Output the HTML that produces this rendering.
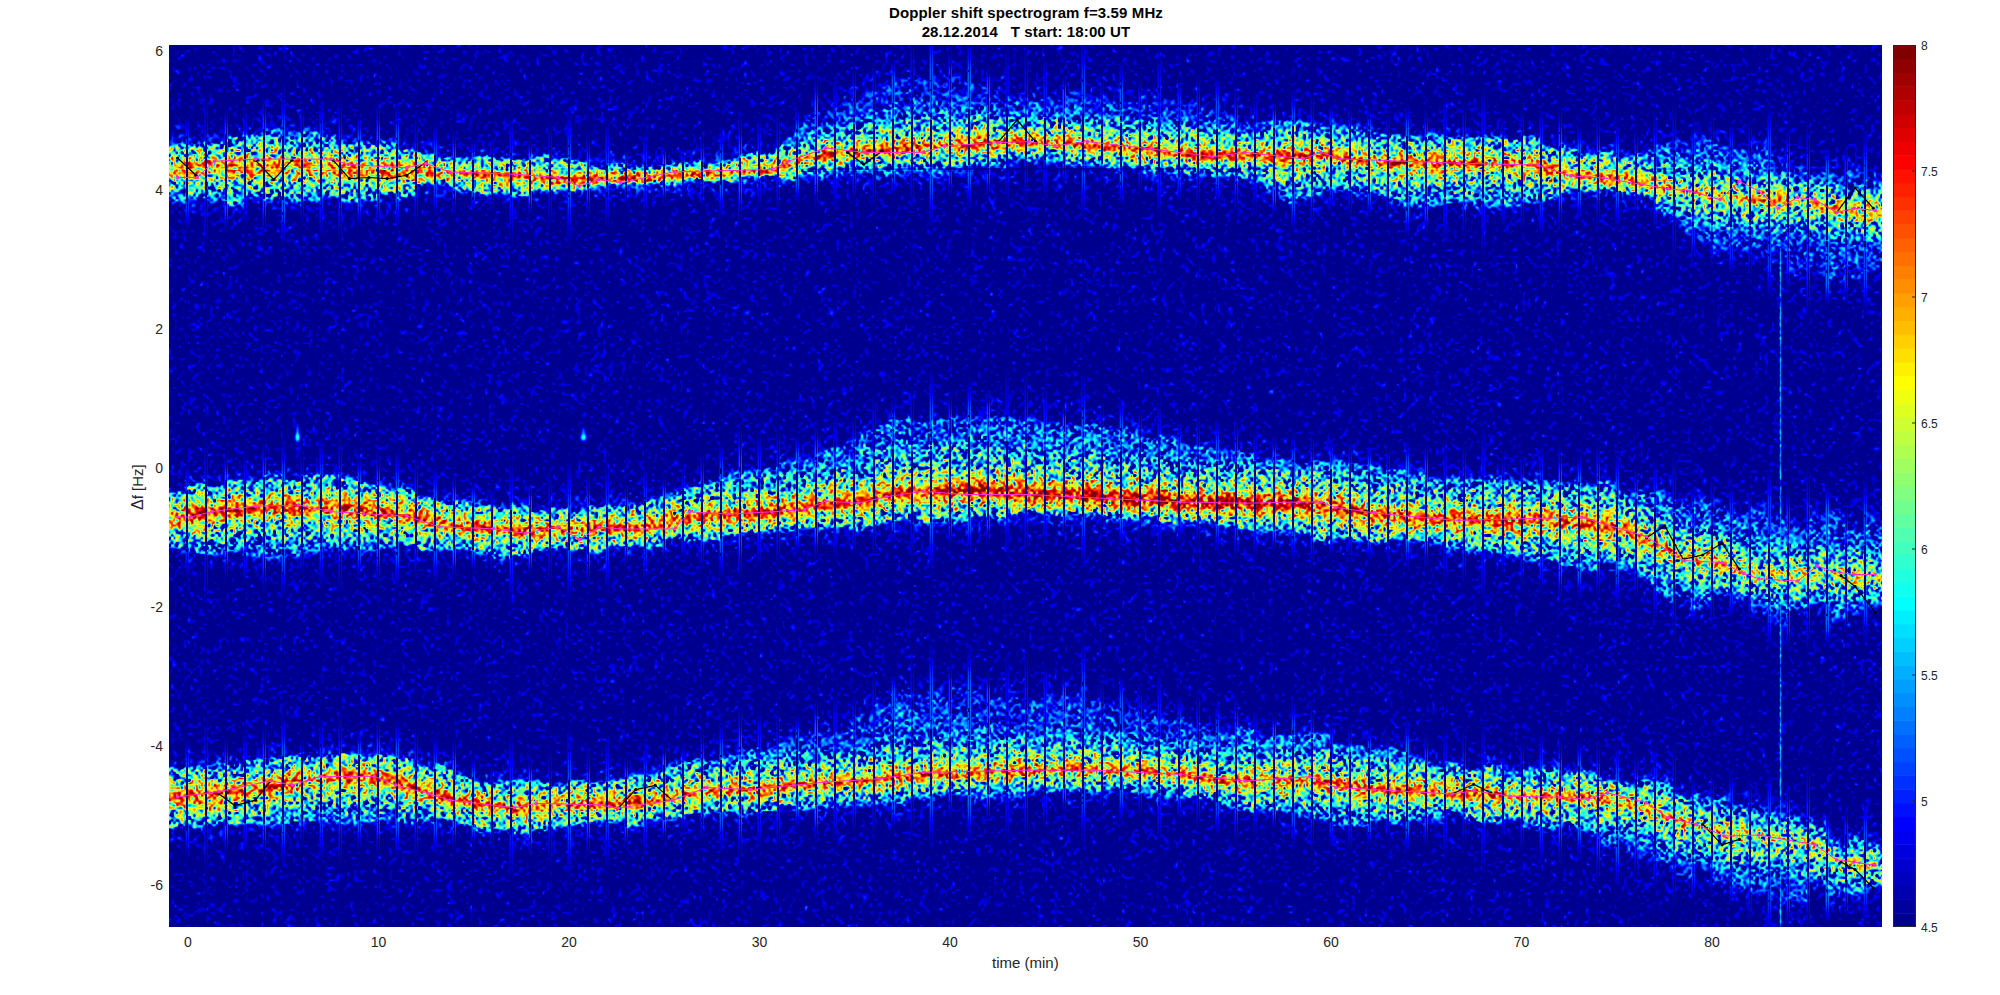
<!DOCTYPE html>
<html><head><meta charset="utf-8">
<style>
html,body{margin:0;padding:0;background:#fff;width:2000px;height:995px;overflow:hidden;position:relative;font-family:"Liberation Sans",sans-serif;}
.t{position:absolute;white-space:nowrap;color:#262626;font-size:14px;line-height:1;}
.title{position:absolute;left:0;width:2052px;text-align:center;font-weight:bold;color:#000;font-size:15px;line-height:1;white-space:pre;letter-spacing:0.12px;}
#cv{position:absolute;left:169px;top:45px;width:1713px;height:882px;}
#ov{position:absolute;left:169px;top:45px;}
#cb{position:absolute;left:1893px;top:45px;}
.yl{text-align:right;width:40px;}
.xl{text-align:center;width:40px;}
</style></head><body>
<div class="title" style="top:5px">Doppler shift spectrogram f=3.59 MHz</div>
<div class="title" style="top:24px">28.12.2014   T start: 18:00 UT</div>
<svg id="fb" width="1713" height="882" style="position:absolute;left:169px;top:45px"><rect width="1713" height="882" fill="#0a0a9a"/><polygon points="0,102 43,94 86,89 130,85 173,91 216,100 259,109 302,112 346,114 389,112 430,121 473,118 516,121 560,116 603,106 646,66 689,49 732,27 776,27 819,45 860,47 903,45 946,51 990,51 1033,56 1076,75 1119,73 1162,77 1206,88 1249,90 1283,92 1326,88 1369,94 1413,107 1456,107 1499,96 1521,98 1542,96 1586,101 1629,116 1672,118 1713,129 1713,227 1672,235 1629,227 1586,205 1542,204 1521,194 1499,163 1456,148 1413,146 1369,159 1326,159 1283,160 1249,166 1206,151 1162,146 1119,159 1076,133 1033,131 990,131 946,125 903,122 860,117 819,125 776,134 732,132 689,132 646,132 603,131 560,135 516,135 473,139 430,140 389,147 346,149 302,147 259,140 216,154 173,152 130,154 86,156 43,158 0,156" fill="#27b6e6"/><polygon points="0,109 43,108 86,108 130,108 173,109 216,113 259,114 302,118 346,120 389,125 430,124 473,124 516,120 560,118 603,116 646,102 689,94 732,92 776,90 819,86 860,85 903,88 946,91 990,94 1033,98 1076,98 1119,100 1162,99 1206,108 1249,108 1283,108 1326,108 1369,112 1413,119 1456,125 1499,132 1521,136 1542,138 1586,145 1629,147 1672,153 1713,156 1713,175 1672,173 1629,167 1586,164 1542,158 1521,156 1499,152 1456,145 1413,138 1369,132 1326,128 1283,128 1249,128 1206,128 1162,120 1119,123 1076,121 1033,121 990,116 946,113 903,110 860,108 819,109 776,112 732,114 689,116 646,122 603,134 560,136 516,138 473,142 430,142 389,144 346,140 302,138 259,136 216,139 173,137 130,136 86,136 43,136 0,137" fill="#d8e040"/><polyline points="0,123 43,122 86,122 130,122 173,123 216,126 259,125 302,128 346,130 389,135 430,133 473,133 516,129 560,127 603,125 646,112 689,105 732,103 776,101 819,98 860,97 903,99 946,102 990,105 1033,110 1076,110 1119,112 1162,110 1206,118 1249,118 1283,118 1326,118 1369,122 1413,129 1456,135 1499,142 1521,146 1542,148 1586,155 1629,157 1672,163 1713,166" fill="none" stroke="#e83010" stroke-width="6"/><polygon points="0,445 43,438 86,434 130,430 173,430 216,441 259,451 302,456 346,460 389,464 430,459 473,456 516,445 560,430 603,417 646,408 689,389 732,374 776,370 819,370 860,374 903,378 946,382 990,391 1033,400 1076,408 1119,417 1162,417 1206,424 1249,426 1283,433 1326,431 1369,436 1413,436 1456,444 1499,448 1521,457 1542,457 1586,466 1629,474 1672,474 1713,483 1713,574 1672,570 1629,570 1586,565 1542,552 1521,565 1499,548 1456,522 1413,522 1369,513 1326,509 1283,502 1249,497 1206,495 1162,495 1119,486 1076,482 1033,476 990,473 946,473 903,469 860,467 819,473 776,476 732,476 689,484 646,486 603,488 560,491 516,495 473,501 430,504 389,506 346,512 302,508 259,503 216,503 173,506 130,510 86,510 43,508 0,503" fill="#27b6e6"/><polygon points="0,456 43,451 86,447 130,447 173,447 216,453 259,462 302,470 346,474 389,472 430,472 473,472 516,462 560,457 603,454 646,447 689,442 732,432 776,431 819,430 860,433 903,434 946,437 990,440 1033,442 1076,443 1119,443 1162,448 1206,455 1249,459 1283,459 1326,460 1369,460 1413,465 1456,471 1499,491 1521,502 1542,502 1586,512 1629,517 1672,517 1713,517 1713,545 1672,545 1629,545 1586,540 1542,530 1521,530 1499,519 1456,499 1413,493 1369,488 1326,488 1283,487 1249,487 1206,483 1162,476 1119,471 1076,473 1033,472 990,470 946,468 903,465 860,463 819,460 776,461 732,462 689,470 646,473 603,479 560,481 516,484 473,492 430,493 389,493 346,496 302,494 259,488 216,481 173,477 130,477 86,477 43,482 0,486" fill="#d8e040"/><polyline points="0,471 43,467 86,462 130,462 173,462 216,467 259,475 302,482 346,485 389,483 430,482 473,482 516,473 560,469 603,467 646,460 689,456 732,447 776,446 819,445 860,448 903,450 946,453 990,455 1033,457 1076,458 1119,457 1162,462 1206,469 1249,473 1283,473 1326,474 1369,474 1413,479 1456,485 1499,505 1521,516 1542,516 1586,526 1629,531 1672,531 1713,531" fill="none" stroke="#e83010" stroke-width="6"/><polygon points="0,723 43,718 86,716 130,710 173,706 216,710 259,718 302,731 346,734 389,738 430,735 473,727 516,719 560,710 603,699 646,686 689,669 732,647 776,645 819,647 860,651 903,647 946,654 990,667 1033,678 1076,686 1119,688 1162,693 1206,701 1249,712 1283,720 1326,722 1369,726 1413,724 1456,737 1499,741 1542,754 1586,757 1629,772 1672,789 1713,806 1713,850 1672,850 1629,850 1586,841 1542,834 1499,815 1456,806 1413,789 1369,785 1326,776 1283,769 1249,775 1206,779 1162,779 1119,771 1076,762 1033,755 990,753 946,747 903,751 860,751 819,753 776,753 732,758 689,762 646,764 603,764 560,766 516,773 473,779 430,781 389,786 346,788 302,783 259,775 216,775 173,777 130,779 86,777 43,783 0,786" fill="#27b6e6"/><polygon points="0,738 43,735 86,730 130,722 173,716 216,720 259,734 302,746 346,750 389,748 430,746 473,744 516,738 560,735 603,733 646,728 689,726 732,722 776,720 819,718 860,716 903,713 946,715 990,718 1033,723 1076,726 1119,724 1162,726 1206,735 1249,735 1283,738 1326,740 1369,742 1413,742 1456,740 1499,758 1542,771 1586,777 1629,782 1672,803 1713,810 1713,838 1672,831 1629,810 1586,805 1542,799 1499,786 1456,768 1413,762 1369,762 1326,760 1283,758 1249,754 1206,754 1162,746 1119,744 1076,746 1033,743 990,737 946,735 903,733 860,735 819,737 776,739 732,742 689,746 646,748 603,752 560,754 516,760 473,767 430,769 389,771 346,773 302,769 259,759 216,748 173,744 130,750 86,758 43,763 0,766" fill="#d8e040"/><polyline points="0,752 43,749 86,744 130,736 173,730 216,734 259,747 302,757 346,762 389,760 430,758 473,755 516,749 560,745 603,742 646,738 689,736 732,732 776,730 819,727 860,726 903,723 946,725 990,727 1033,733 1076,736 1119,734 1162,736 1206,745 1249,745 1283,748 1326,750 1369,752 1413,752 1456,754 1499,772 1542,785 1586,791 1629,796 1672,817 1713,824" fill="none" stroke="#e83010" stroke-width="6"/></svg>
<canvas id="cv" width="1713" height="882"></canvas>
<svg id="ov" width="1713" height="882" style="position:absolute;left:169px;top:45px"><polyline points="8.6,113.0 27.0,130.3" fill="none" stroke="#000" stroke-width="1.2"/><circle cx="8.6" cy="113.0" r="1.6" fill="#000"/><circle cx="27.0" cy="130.3" r="1.6" fill="#000"/><polyline points="86.4,115.2 104.8,134.6 123.0,115.2" fill="none" stroke="#000" stroke-width="1.2"/><circle cx="86.4" cy="115.2" r="1.6" fill="#000"/><circle cx="104.8" cy="134.6" r="1.6" fill="#000"/><circle cx="123.0" cy="115.2" r="1.6" fill="#000"/><polyline points="164.2,115.2 180.4,133.6 199.9,132.5 218.2,133.6 237.7,130.3 257.0,117.4" fill="none" stroke="#000" stroke-width="1.2"/><circle cx="164.2" cy="115.2" r="1.6" fill="#000"/><circle cx="180.4" cy="133.6" r="1.6" fill="#000"/><circle cx="199.9" cy="132.5" r="1.6" fill="#000"/><circle cx="218.2" cy="133.6" r="1.6" fill="#000"/><circle cx="237.7" cy="130.3" r="1.6" fill="#000"/><circle cx="257.0" cy="117.4" r="1.6" fill="#000"/><polyline points="678.5,107.4 694.7,119.2 713.0,106.3" fill="none" stroke="#000" stroke-width="1.2"/><circle cx="678.5" cy="107.4" r="1.6" fill="#000"/><circle cx="694.7" cy="119.2" r="1.6" fill="#000"/><circle cx="713.0" cy="106.3" r="1.6" fill="#000"/><polyline points="829.7,96.6 848.0,75.0 866.5,96.6" fill="none" stroke="#000" stroke-width="1.2"/><circle cx="829.7" cy="96.6" r="1.6" fill="#000"/><circle cx="848.0" cy="75.0" r="1.6" fill="#000"/><circle cx="866.5" cy="96.6" r="1.6" fill="#000"/><polyline points="1667.6,167.6 1686.0,142.8 1704.4,163.3" fill="none" stroke="#000" stroke-width="1.2"/><circle cx="1667.6" cy="167.6" r="1.6" fill="#000"/><circle cx="1686.0" cy="142.8" r="1.6" fill="#000"/><circle cx="1704.4" cy="163.3" r="1.6" fill="#000"/><polyline points="1477.5,492.8 1495.8,480.9 1514.2,514.4 1533.6,510.0 1553.1,498.2 1570.4,524.1" fill="none" stroke="#000" stroke-width="1.2"/><circle cx="1477.5" cy="492.8" r="1.6" fill="#000"/><circle cx="1495.8" cy="480.9" r="1.6" fill="#000"/><circle cx="1514.2" cy="514.4" r="1.6" fill="#000"/><circle cx="1533.6" cy="510.0" r="1.6" fill="#000"/><circle cx="1553.1" cy="498.2" r="1.6" fill="#000"/><circle cx="1570.4" cy="524.1" r="1.6" fill="#000"/><polyline points="1672.0,530.6 1686.0,541.4 1706.5,567.3" fill="none" stroke="#000" stroke-width="1.2"/><circle cx="1672.0" cy="530.6" r="1.6" fill="#000"/><circle cx="1686.0" cy="541.4" r="1.6" fill="#000"/><circle cx="1706.5" cy="567.3" r="1.6" fill="#000"/><polyline points="49.7,748.7 65.9,760.6 86.4,755.2 101.6,735.8" fill="none" stroke="#000" stroke-width="1.2"/><circle cx="49.7" cy="748.7" r="1.6" fill="#000"/><circle cx="65.9" cy="760.6" r="1.6" fill="#000"/><circle cx="86.4" cy="755.2" r="1.6" fill="#000"/><circle cx="101.6" cy="735.8" r="1.6" fill="#000"/><polyline points="449.4,763.0 466.7,744.6 486.2,740.3 503.5,755.4" fill="none" stroke="#000" stroke-width="1.2"/><circle cx="449.4" cy="763.0" r="1.6" fill="#000"/><circle cx="466.7" cy="744.6" r="1.6" fill="#000"/><circle cx="486.2" cy="740.3" r="1.6" fill="#000"/><circle cx="503.5" cy="755.4" r="1.6" fill="#000"/><polyline points="1283.0,749.0 1304.6,739.3 1321.9,747.9" fill="none" stroke="#000" stroke-width="1.2"/><circle cx="1283.0" cy="749.0" r="1.6" fill="#000"/><circle cx="1304.6" cy="739.3" r="1.6" fill="#000"/><circle cx="1321.9" cy="747.9" r="1.6" fill="#000"/><polyline points="1533.6,779.2 1553.1,799.8 1570.4,794.4" fill="none" stroke="#000" stroke-width="1.2"/><circle cx="1533.6" cy="779.2" r="1.6" fill="#000"/><circle cx="1553.1" cy="799.8" r="1.6" fill="#000"/><circle cx="1570.4" cy="794.4" r="1.6" fill="#000"/><polyline points="1672.0,817.0 1686.0,824.6 1704.4,843.0" fill="none" stroke="#000" stroke-width="1.2"/><circle cx="1672.0" cy="817.0" r="1.6" fill="#000"/><circle cx="1686.0" cy="824.6" r="1.6" fill="#000"/><circle cx="1704.4" cy="843.0" r="1.6" fill="#000"/><polyline points="8.6,132.5 28.0,132.5 45.4,116.3 86.4,114.1 162.0,114.1 179.3,119.5 237.7,122.8 257.0,118.4 280.9,127.0 345.7,129.2 389.0,132.5 410.5,141.1 430.0,134.6 451.6,137.6 505.6,126.8 602.9,124.6 620.1,116.0 656.9,103.0 695.8,107.4 754.1,107.4 775.7,100.9 829.7,97.6 860.0,96.6 886.0,100.9 918.3,96.6 983.2,104.1 1043.7,111.7 1076.0,107.4 1134.4,113.8 1151.7,107.4 1171.1,113.8 1290.0,118.2 1369.4,120.1 1401.8,130.9 1434.3,133.0 1499.0,143.8 1520.7,146.0 1551.0,154.6 1570.4,136.3 1589.8,146.0 1609.3,163.3 1628.7,152.5 1646.0,154.6 1667.6,167.6 1684.9,163.3 1706.0,165.4" fill="none" stroke="#ff2bd6" stroke-width="1"/><circle cx="8.6" cy="132.5" r="1.8" fill="#ff2bd6"/><circle cx="28.0" cy="132.5" r="1.8" fill="#ff2bd6"/><circle cx="45.4" cy="116.3" r="1.8" fill="#ff2bd6"/><circle cx="86.4" cy="114.1" r="1.8" fill="#ff2bd6"/><circle cx="162.0" cy="114.1" r="1.8" fill="#ff2bd6"/><circle cx="179.3" cy="119.5" r="1.8" fill="#ff2bd6"/><circle cx="237.7" cy="122.8" r="1.8" fill="#ff2bd6"/><circle cx="257.0" cy="118.4" r="1.8" fill="#ff2bd6"/><circle cx="280.9" cy="127.0" r="1.8" fill="#ff2bd6"/><circle cx="345.7" cy="129.2" r="1.8" fill="#ff2bd6"/><circle cx="389.0" cy="132.5" r="1.8" fill="#ff2bd6"/><circle cx="410.5" cy="141.1" r="1.8" fill="#ff2bd6"/><circle cx="430.0" cy="134.6" r="1.8" fill="#ff2bd6"/><circle cx="451.6" cy="137.6" r="1.8" fill="#ff2bd6"/><circle cx="505.6" cy="126.8" r="1.8" fill="#ff2bd6"/><circle cx="602.9" cy="124.6" r="1.8" fill="#ff2bd6"/><circle cx="620.1" cy="116.0" r="1.8" fill="#ff2bd6"/><circle cx="656.9" cy="103.0" r="1.8" fill="#ff2bd6"/><circle cx="695.8" cy="107.4" r="1.8" fill="#ff2bd6"/><circle cx="754.1" cy="107.4" r="1.8" fill="#ff2bd6"/><circle cx="775.7" cy="100.9" r="1.8" fill="#ff2bd6"/><circle cx="829.7" cy="97.6" r="1.8" fill="#ff2bd6"/><circle cx="860.0" cy="96.6" r="1.8" fill="#ff2bd6"/><circle cx="886.0" cy="100.9" r="1.8" fill="#ff2bd6"/><circle cx="918.3" cy="96.6" r="1.8" fill="#ff2bd6"/><circle cx="983.2" cy="104.1" r="1.8" fill="#ff2bd6"/><circle cx="1043.7" cy="111.7" r="1.8" fill="#ff2bd6"/><circle cx="1076.0" cy="107.4" r="1.8" fill="#ff2bd6"/><circle cx="1134.4" cy="113.8" r="1.8" fill="#ff2bd6"/><circle cx="1151.7" cy="107.4" r="1.8" fill="#ff2bd6"/><circle cx="1171.1" cy="113.8" r="1.8" fill="#ff2bd6"/><circle cx="1290.0" cy="118.2" r="1.8" fill="#ff2bd6"/><circle cx="1369.4" cy="120.1" r="1.8" fill="#ff2bd6"/><circle cx="1401.8" cy="130.9" r="1.8" fill="#ff2bd6"/><circle cx="1434.3" cy="133.0" r="1.8" fill="#ff2bd6"/><circle cx="1499.0" cy="143.8" r="1.8" fill="#ff2bd6"/><circle cx="1520.7" cy="146.0" r="1.8" fill="#ff2bd6"/><circle cx="1551.0" cy="154.6" r="1.8" fill="#ff2bd6"/><circle cx="1570.4" cy="136.3" r="1.8" fill="#ff2bd6"/><circle cx="1589.8" cy="146.0" r="1.8" fill="#ff2bd6"/><circle cx="1609.3" cy="163.3" r="1.8" fill="#ff2bd6"/><circle cx="1628.7" cy="152.5" r="1.8" fill="#ff2bd6"/><circle cx="1646.0" cy="154.6" r="1.8" fill="#ff2bd6"/><circle cx="1667.6" cy="167.6" r="1.8" fill="#ff2bd6"/><circle cx="1684.9" cy="163.3" r="1.8" fill="#ff2bd6"/><circle cx="1706.0" cy="165.4" r="1.8" fill="#ff2bd6"/><polyline points="8.6,472.0 21.6,472.0 43.2,466.6 86.4,461.2 129.6,460.0 162.0,466.6 194.5,468.7 237.7,470.9 270.1,481.7 324.1,483.8 356.5,488.2 389.0,481.7 410.5,494.6 430.0,482.0 451.6,484.0 505.6,484.0 520.8,466.8 559.6,469.0 602.9,466.8 635.3,464.6 656.9,456.0 689.3,458.2 717.4,451.7 754.1,446.3 797.3,449.5 860.0,449.5 903.2,451.7 968.0,455.0 1011.3,457.0 1076.0,458.2 1130.0,457.0 1151.7,457.0 1166.8,462.5 1205.7,467.9 1249.0,472.2 1290.0,475.4 1412.6,472.2 1477.5,491.7 1514.2,515.5 1553.1,517.6 1574.7,528.4 1589.8,533.8 1628.7,536.0 1648.2,520.9 1663.3,526.3 1684.9,529.5 1706.0,529.5" fill="none" stroke="#ff2bd6" stroke-width="1"/><circle cx="8.6" cy="472.0" r="1.8" fill="#ff2bd6"/><circle cx="21.6" cy="472.0" r="1.8" fill="#ff2bd6"/><circle cx="43.2" cy="466.6" r="1.8" fill="#ff2bd6"/><circle cx="86.4" cy="461.2" r="1.8" fill="#ff2bd6"/><circle cx="129.6" cy="460.0" r="1.8" fill="#ff2bd6"/><circle cx="162.0" cy="466.6" r="1.8" fill="#ff2bd6"/><circle cx="194.5" cy="468.7" r="1.8" fill="#ff2bd6"/><circle cx="237.7" cy="470.9" r="1.8" fill="#ff2bd6"/><circle cx="270.1" cy="481.7" r="1.8" fill="#ff2bd6"/><circle cx="324.1" cy="483.8" r="1.8" fill="#ff2bd6"/><circle cx="356.5" cy="488.2" r="1.8" fill="#ff2bd6"/><circle cx="389.0" cy="481.7" r="1.8" fill="#ff2bd6"/><circle cx="410.5" cy="494.6" r="1.8" fill="#ff2bd6"/><circle cx="430.0" cy="482.0" r="1.8" fill="#ff2bd6"/><circle cx="451.6" cy="484.0" r="1.8" fill="#ff2bd6"/><circle cx="505.6" cy="484.0" r="1.8" fill="#ff2bd6"/><circle cx="520.8" cy="466.8" r="1.8" fill="#ff2bd6"/><circle cx="559.6" cy="469.0" r="1.8" fill="#ff2bd6"/><circle cx="602.9" cy="466.8" r="1.8" fill="#ff2bd6"/><circle cx="635.3" cy="464.6" r="1.8" fill="#ff2bd6"/><circle cx="656.9" cy="456.0" r="1.8" fill="#ff2bd6"/><circle cx="689.3" cy="458.2" r="1.8" fill="#ff2bd6"/><circle cx="717.4" cy="451.7" r="1.8" fill="#ff2bd6"/><circle cx="754.1" cy="446.3" r="1.8" fill="#ff2bd6"/><circle cx="797.3" cy="449.5" r="1.8" fill="#ff2bd6"/><circle cx="860.0" cy="449.5" r="1.8" fill="#ff2bd6"/><circle cx="903.2" cy="451.7" r="1.8" fill="#ff2bd6"/><circle cx="968.0" cy="455.0" r="1.8" fill="#ff2bd6"/><circle cx="1011.3" cy="457.0" r="1.8" fill="#ff2bd6"/><circle cx="1076.0" cy="458.2" r="1.8" fill="#ff2bd6"/><circle cx="1130.0" cy="457.0" r="1.8" fill="#ff2bd6"/><circle cx="1151.7" cy="457.0" r="1.8" fill="#ff2bd6"/><circle cx="1166.8" cy="462.5" r="1.8" fill="#ff2bd6"/><circle cx="1205.7" cy="467.9" r="1.8" fill="#ff2bd6"/><circle cx="1249.0" cy="472.2" r="1.8" fill="#ff2bd6"/><circle cx="1290.0" cy="475.4" r="1.8" fill="#ff2bd6"/><circle cx="1412.6" cy="472.2" r="1.8" fill="#ff2bd6"/><circle cx="1477.5" cy="491.7" r="1.8" fill="#ff2bd6"/><circle cx="1514.2" cy="515.5" r="1.8" fill="#ff2bd6"/><circle cx="1553.1" cy="517.6" r="1.8" fill="#ff2bd6"/><circle cx="1574.7" cy="528.4" r="1.8" fill="#ff2bd6"/><circle cx="1589.8" cy="533.8" r="1.8" fill="#ff2bd6"/><circle cx="1628.7" cy="536.0" r="1.8" fill="#ff2bd6"/><circle cx="1648.2" cy="520.9" r="1.8" fill="#ff2bd6"/><circle cx="1663.3" cy="526.3" r="1.8" fill="#ff2bd6"/><circle cx="1684.9" cy="529.5" r="1.8" fill="#ff2bd6"/><circle cx="1706.0" cy="529.5" r="1.8" fill="#ff2bd6"/><polyline points="8.6,752.0 49.7,746.6 101.6,735.8 123.2,740.1 151.3,731.4 205.3,731.4 226.9,740.1 259.3,748.7 280.9,755.2 345.7,762.8 367.3,758.4 430.0,759.8 449.4,763.0 503.5,755.4 538.0,742.5 581.3,744.6 624.5,740.3 656.9,737.1 711.0,733.8 754.1,727.4 860.0,725.2 924.8,725.2 1011.3,729.5 1076.0,736.0 1140.9,731.7 1166.8,742.5 1205.7,744.6 1283.0,749.0 1304.6,745.8 1341.3,751.2 1391.0,752.2 1419.1,754.4 1438.6,747.9 1477.5,757.6 1499.0,772.8 1527.2,779.2 1555.3,791.1 1589.8,790.0 1646.0,799.8 1667.6,814.9 1684.9,817.0 1706.0,820.3" fill="none" stroke="#ff2bd6" stroke-width="1"/><circle cx="8.6" cy="752.0" r="1.8" fill="#ff2bd6"/><circle cx="49.7" cy="746.6" r="1.8" fill="#ff2bd6"/><circle cx="101.6" cy="735.8" r="1.8" fill="#ff2bd6"/><circle cx="123.2" cy="740.1" r="1.8" fill="#ff2bd6"/><circle cx="151.3" cy="731.4" r="1.8" fill="#ff2bd6"/><circle cx="205.3" cy="731.4" r="1.8" fill="#ff2bd6"/><circle cx="226.9" cy="740.1" r="1.8" fill="#ff2bd6"/><circle cx="259.3" cy="748.7" r="1.8" fill="#ff2bd6"/><circle cx="280.9" cy="755.2" r="1.8" fill="#ff2bd6"/><circle cx="345.7" cy="762.8" r="1.8" fill="#ff2bd6"/><circle cx="367.3" cy="758.4" r="1.8" fill="#ff2bd6"/><circle cx="430.0" cy="759.8" r="1.8" fill="#ff2bd6"/><circle cx="449.4" cy="763.0" r="1.8" fill="#ff2bd6"/><circle cx="503.5" cy="755.4" r="1.8" fill="#ff2bd6"/><circle cx="538.0" cy="742.5" r="1.8" fill="#ff2bd6"/><circle cx="581.3" cy="744.6" r="1.8" fill="#ff2bd6"/><circle cx="624.5" cy="740.3" r="1.8" fill="#ff2bd6"/><circle cx="656.9" cy="737.1" r="1.8" fill="#ff2bd6"/><circle cx="711.0" cy="733.8" r="1.8" fill="#ff2bd6"/><circle cx="754.1" cy="727.4" r="1.8" fill="#ff2bd6"/><circle cx="860.0" cy="725.2" r="1.8" fill="#ff2bd6"/><circle cx="924.8" cy="725.2" r="1.8" fill="#ff2bd6"/><circle cx="1011.3" cy="729.5" r="1.8" fill="#ff2bd6"/><circle cx="1076.0" cy="736.0" r="1.8" fill="#ff2bd6"/><circle cx="1140.9" cy="731.7" r="1.8" fill="#ff2bd6"/><circle cx="1166.8" cy="742.5" r="1.8" fill="#ff2bd6"/><circle cx="1205.7" cy="744.6" r="1.8" fill="#ff2bd6"/><circle cx="1283.0" cy="749.0" r="1.8" fill="#ff2bd6"/><circle cx="1304.6" cy="745.8" r="1.8" fill="#ff2bd6"/><circle cx="1341.3" cy="751.2" r="1.8" fill="#ff2bd6"/><circle cx="1391.0" cy="752.2" r="1.8" fill="#ff2bd6"/><circle cx="1419.1" cy="754.4" r="1.8" fill="#ff2bd6"/><circle cx="1438.6" cy="747.9" r="1.8" fill="#ff2bd6"/><circle cx="1477.5" cy="757.6" r="1.8" fill="#ff2bd6"/><circle cx="1499.0" cy="772.8" r="1.8" fill="#ff2bd6"/><circle cx="1527.2" cy="779.2" r="1.8" fill="#ff2bd6"/><circle cx="1555.3" cy="791.1" r="1.8" fill="#ff2bd6"/><circle cx="1589.8" cy="790.0" r="1.8" fill="#ff2bd6"/><circle cx="1646.0" cy="799.8" r="1.8" fill="#ff2bd6"/><circle cx="1667.6" cy="814.9" r="1.8" fill="#ff2bd6"/><circle cx="1684.9" cy="817.0" r="1.8" fill="#ff2bd6"/><circle cx="1706.0" cy="820.3" r="1.8" fill="#ff2bd6"/></svg>
<svg id="cb" width="23" height="882"><rect x="0" y="868.22" width="23" height="14.28" fill="rgb(0,0,143)"/><rect x="0" y="854.44" width="23" height="14.28" fill="rgb(0,0,159)"/><rect x="0" y="840.66" width="23" height="14.28" fill="rgb(0,0,175)"/><rect x="0" y="826.88" width="23" height="14.28" fill="rgb(0,0,191)"/><rect x="0" y="813.09" width="23" height="14.28" fill="rgb(0,0,207)"/><rect x="0" y="799.31" width="23" height="14.28" fill="rgb(0,0,223)"/><rect x="0" y="785.53" width="23" height="14.28" fill="rgb(0,0,239)"/><rect x="0" y="771.75" width="23" height="14.28" fill="rgb(0,0,255)"/><rect x="0" y="757.97" width="23" height="14.28" fill="rgb(0,16,255)"/><rect x="0" y="744.19" width="23" height="14.28" fill="rgb(0,32,255)"/><rect x="0" y="730.41" width="23" height="14.28" fill="rgb(0,48,255)"/><rect x="0" y="716.62" width="23" height="14.28" fill="rgb(0,64,255)"/><rect x="0" y="702.84" width="23" height="14.28" fill="rgb(0,80,255)"/><rect x="0" y="689.06" width="23" height="14.28" fill="rgb(0,96,255)"/><rect x="0" y="675.28" width="23" height="14.28" fill="rgb(0,112,255)"/><rect x="0" y="661.50" width="23" height="14.28" fill="rgb(0,128,255)"/><rect x="0" y="647.72" width="23" height="14.28" fill="rgb(0,143,255)"/><rect x="0" y="633.94" width="23" height="14.28" fill="rgb(0,159,255)"/><rect x="0" y="620.16" width="23" height="14.28" fill="rgb(0,175,255)"/><rect x="0" y="606.38" width="23" height="14.28" fill="rgb(0,191,255)"/><rect x="0" y="592.59" width="23" height="14.28" fill="rgb(0,207,255)"/><rect x="0" y="578.81" width="23" height="14.28" fill="rgb(0,223,255)"/><rect x="0" y="565.03" width="23" height="14.28" fill="rgb(0,239,255)"/><rect x="0" y="551.25" width="23" height="14.28" fill="rgb(0,255,255)"/><rect x="0" y="537.47" width="23" height="14.28" fill="rgb(16,255,239)"/><rect x="0" y="523.69" width="23" height="14.28" fill="rgb(32,255,223)"/><rect x="0" y="509.91" width="23" height="14.28" fill="rgb(48,255,207)"/><rect x="0" y="496.12" width="23" height="14.28" fill="rgb(64,255,191)"/><rect x="0" y="482.34" width="23" height="14.28" fill="rgb(80,255,175)"/><rect x="0" y="468.56" width="23" height="14.28" fill="rgb(96,255,159)"/><rect x="0" y="454.78" width="23" height="14.28" fill="rgb(112,255,143)"/><rect x="0" y="441.00" width="23" height="14.28" fill="rgb(128,255,128)"/><rect x="0" y="427.22" width="23" height="14.28" fill="rgb(143,255,112)"/><rect x="0" y="413.44" width="23" height="14.28" fill="rgb(159,255,96)"/><rect x="0" y="399.66" width="23" height="14.28" fill="rgb(175,255,80)"/><rect x="0" y="385.88" width="23" height="14.28" fill="rgb(191,255,64)"/><rect x="0" y="372.09" width="23" height="14.28" fill="rgb(207,255,48)"/><rect x="0" y="358.31" width="23" height="14.28" fill="rgb(223,255,32)"/><rect x="0" y="344.53" width="23" height="14.28" fill="rgb(239,255,16)"/><rect x="0" y="330.75" width="23" height="14.28" fill="rgb(255,255,0)"/><rect x="0" y="316.97" width="23" height="14.28" fill="rgb(255,239,0)"/><rect x="0" y="303.19" width="23" height="14.28" fill="rgb(255,223,0)"/><rect x="0" y="289.41" width="23" height="14.28" fill="rgb(255,207,0)"/><rect x="0" y="275.62" width="23" height="14.28" fill="rgb(255,191,0)"/><rect x="0" y="261.84" width="23" height="14.28" fill="rgb(255,175,0)"/><rect x="0" y="248.06" width="23" height="14.28" fill="rgb(255,159,0)"/><rect x="0" y="234.28" width="23" height="14.28" fill="rgb(255,143,0)"/><rect x="0" y="220.50" width="23" height="14.28" fill="rgb(255,128,0)"/><rect x="0" y="206.72" width="23" height="14.28" fill="rgb(255,112,0)"/><rect x="0" y="192.94" width="23" height="14.28" fill="rgb(255,96,0)"/><rect x="0" y="179.16" width="23" height="14.28" fill="rgb(255,80,0)"/><rect x="0" y="165.38" width="23" height="14.28" fill="rgb(255,64,0)"/><rect x="0" y="151.59" width="23" height="14.28" fill="rgb(255,48,0)"/><rect x="0" y="137.81" width="23" height="14.28" fill="rgb(255,32,0)"/><rect x="0" y="124.03" width="23" height="14.28" fill="rgb(255,16,0)"/><rect x="0" y="110.25" width="23" height="14.28" fill="rgb(255,0,0)"/><rect x="0" y="96.47" width="23" height="14.28" fill="rgb(239,0,0)"/><rect x="0" y="82.69" width="23" height="14.28" fill="rgb(223,0,0)"/><rect x="0" y="68.91" width="23" height="14.28" fill="rgb(207,0,0)"/><rect x="0" y="55.12" width="23" height="14.28" fill="rgb(191,0,0)"/><rect x="0" y="41.34" width="23" height="14.28" fill="rgb(175,0,0)"/><rect x="0" y="27.56" width="23" height="14.28" fill="rgb(159,0,0)"/><rect x="0" y="13.78" width="23" height="14.28" fill="rgb(143,0,0)"/><rect x="0" y="0.00" width="23" height="14.28" fill="rgb(128,0,0)"/><line x1="19" x2="23" y1="0" y2="0" stroke="#262626" stroke-width="1"/><line x1="19" x2="23" y1="126" y2="126" stroke="#262626" stroke-width="1"/><line x1="19" x2="23" y1="252" y2="252" stroke="#262626" stroke-width="1"/><line x1="19" x2="23" y1="378" y2="378" stroke="#262626" stroke-width="1"/><line x1="19" x2="23" y1="504" y2="504" stroke="#262626" stroke-width="1"/><line x1="19" x2="23" y1="630" y2="630" stroke="#262626" stroke-width="1"/><line x1="19" x2="23" y1="756" y2="756" stroke="#262626" stroke-width="1"/><line x1="19" x2="23" y1="882" y2="882" stroke="#262626" stroke-width="1"/><rect x="0.5" y="0.5" width="22" height="881" fill="none" stroke="#262626" stroke-width="1"/></svg>
<div class="t yl" style="left:123px;top:44px">6</div>
<div class="t yl" style="left:123px;top:183px">4</div>
<div class="t yl" style="left:123px;top:322px">2</div>
<div class="t yl" style="left:123px;top:461px">0</div>
<div class="t yl" style="left:123px;top:600px">-2</div>
<div class="t yl" style="left:123px;top:739px">-4</div>
<div class="t yl" style="left:123px;top:878px">-6</div>
<div class="t xl" style="left:168.0px;top:935px">0</div>
<div class="t xl" style="left:358.5px;top:935px">10</div>
<div class="t xl" style="left:549.0px;top:935px">20</div>
<div class="t xl" style="left:739.5px;top:935px">30</div>
<div class="t xl" style="left:930.0px;top:935px">40</div>
<div class="t xl" style="left:1120.5px;top:935px">50</div>
<div class="t xl" style="left:1311.0px;top:935px">60</div>
<div class="t xl" style="left:1501.5px;top:935px">70</div>
<div class="t xl" style="left:1692.0px;top:935px">80</div>
<div class="t" style="left:992px;top:955px;font-size:15px">time (min)</div>
<div class="t" style="left:114px;top:480px;font-size:15px;transform:rotate(-90deg);transform-origin:23px 7px;width:46px"><span style="font-size:16px">&#916;</span>f [Hz]</div>
<div class="t" style="left:1921px;top:40px;font-size:12px">8</div>
<div class="t" style="left:1921px;top:166px;font-size:12px">7.5</div>
<div class="t" style="left:1921px;top:292px;font-size:12px">7</div>
<div class="t" style="left:1921px;top:418px;font-size:12px">6.5</div>
<div class="t" style="left:1921px;top:544px;font-size:12px">6</div>
<div class="t" style="left:1921px;top:670px;font-size:12px">5.5</div>
<div class="t" style="left:1921px;top:796px;font-size:12px">5</div>
<div class="t" style="left:1921px;top:922px;font-size:12px">4.5</div>

<script id="gen">
(function(){
var W=1713,H=882,X0=169,Y0=45;
var cv=document.getElementById('cv'),ctx=cv.getContext('2d');
var img=ctx.createImageData(W,H),D=img.data;
var s=2463534242;
function rnd(){s^=s<<13;s^=s>>>17;s^=s<<5;return ((s>>>0)+0.5)/4294967296;}
function blur(a,r){var b=new Float32Array(W*H),x,y,acc,n=2*r+1;
 for(y=0;y<H;y++){acc=0;var o=y*W;for(x=-r;x<=r;x++)acc+=a[o+Math.min(W-1,Math.max(0,x))];
  for(x=0;x<W;x++){b[o+x]=acc/n;acc+=a[o+Math.min(W-1,x+r+1)]-a[o+Math.max(0,x-r)];}}
 for(x=0;x<W;x++){acc=0;for(y=-r;y<=r;y++)acc+=b[Math.min(H-1,Math.max(0,y))*W+x];
  for(y=0;y<H;y++){a[y*W+x]=acc/n;acc+=b[Math.min(H-1,y+r+1)*W+x]-b[Math.max(0,y-r)*W+x];}}
}
function b121(a){var b=new Float32Array(W*H),x,y,o;
 for(y=0;y<H;y++){o=y*W;b[o]=a[o];b[o+W-1]=a[o+W-1];for(x=1;x<W-1;x++)b[o+x]=(a[o+x-1]+2*a[o+x]+a[o+x+1])*0.25;}
 for(x=0;x<W;x++){a[x]=b[x];a[(H-1)*W+x]=b[(H-1)*W+x];for(y=1;y<H-1;y++){o=y*W+x;a[o]=(b[o-W]+2*b[o]+b[o+W])*0.25;}}
}
var NP=W*H,i;
var N=new Float32Array(NP);for(i=0;i<NP;i++)N[i]=rnd();

function mkNoise(ns,OUT){var GW=Math.ceil(W/ns)+4,GH=Math.ceil(H/ns)+4,GN=GW*GH;var M=new Float32Array(GN),i;
for(i=0;i<GN;i++){var u1=rnd(),u2=rnd();M[i]=Math.sqrt(-2*Math.log(u1))*Math.cos(6.2831853*u2);}
for(i=0;i<GN;i++){var f=M[i];var U=1/(1+Math.exp(-1.702*f));M[i]=Math.log(-Math.log(1-U)+1e-6);}
function cr(p0,p1,p2,p3,t){return p1+0.5*t*(p2-p0+t*(2*p0-5*p1+4*p2-p3+t*(3*(p1-p2)+p3-p0)));}
var row=new Float32Array(4);
for(var y=0;y<H;y++){var fy=y/ns+1,iy=Math.floor(fy),ty=fy-iy;for(var x=0;x<W;x++){var fx=x/ns+1,ix=Math.floor(fx),tx=fx-ix;
 for(var r=0;r<4;r++){var o=(iy-1+r)*GW+ix;row[r]=cr(M[o-1],M[o],M[o+1],M[o+2],tx);}
 OUT[y*W+x]=cr(row[0],row[1],row[2],row[3],ty);}}
var mu=0,sd=0;for(i=0;i<NP;i++)mu+=OUT[i];mu/=NP;for(i=0;i<NP;i++){OUT[i]-=mu;sd+=OUT[i]*OUT[i];}sd=Math.sqrt(sd/NP);for(i=0;i<NP;i++)OUT[i]/=sd;}
mkNoise((2.5),N);var N2=new Float32Array(NP);mkNoise((3.2),N2);

function interp(P,x,k){if(x<=P[0][0])return P[0][k];for(var j=1;j<P.length;j++){if(x<=P[j][0]){var t=(x-P[j-1][0])/(P[j][0]-P[j-1][0]);return P[j-1][k]*(1-t)+P[j][k]*t;}}return P[P.length-1][k];}
var B=[[[169.0, 168.0, 147.0, 201.0, 20.0, 0.9, 1.0], [212.0, 166.7, 138.6, 203.0, 20.0, 0.9, 1.0], [255.0, 166.7, 134.0, 201.0, 20.0, 0.9, 1.0], [299.0, 166.7, 130.0, 199.0, 20.0, 0.9, 1.0], [342.0, 168.0, 136.0, 197.0, 20.0, 0.9, 1.0], [385.0, 171.0, 145.0, 199.0, 18.0, 0.9, 1.0], [428.0, 170.0, 154.0, 185.0, 15.0, 1.0, 1.0], [471.5, 173.0, 156.6, 191.8, 14.0, 1.0, 1.0], [515.0, 175.0, 158.7, 194.0, 14.0, 1.0, 1.0], [558.0, 179.6, 156.6, 191.8, 14.0, 1.0, 1.0], [599.0, 178.0, 166.0, 185.0, 13.0, 1.0, 1.0], [642.0, 178.0, 163.5, 184.0, 13.0, 1.0, 1.0], [685.0, 174.0, 165.7, 180.0, 13.0, 1.0, 1.0], [729.0, 172.0, 161.0, 180.0, 13.0, 1.0, 1.0], [772.0, 169.6, 150.6, 175.6, 13.0, 1.0, 1.0], [815.0, 156.7, 111.0, 176.5, 14.0, 1.0, 0.55], [858.0, 150.0, 94.0, 176.5, 15.0, 1.0, 0.55], [901.5, 148.0, 72.4, 176.5, 16.0, 1.0, 0.55], [944.7, 146.0, 72.4, 178.6, 16.0, 1.0, 0.55], [988.0, 142.6, 89.7, 170.0, 16.0, 1.0, 0.55], [1029.0, 141.6, 92.0, 162.0, 16.0, 1.0, 0.55], [1072.0, 143.7, 89.7, 167.5, 16.0, 1.0, 0.55], [1115.0, 147.0, 96.0, 169.6, 16.0, 1.0, 0.55], [1158.6, 150.0, 96.0, 176.0, 16.0, 1.0, 0.55], [1202.0, 154.5, 100.5, 176.0, 16.0, 1.0, 0.55], [1245.0, 154.5, 120.0, 178.0, 16.0, 1.0, 0.55], [1288.0, 156.7, 117.8, 204.0, 16.0, 1.0, 1.0], [1331.5, 154.5, 122.0, 191.0, 15.0, 1.0, 1.0], [1374.7, 163.0, 133.0, 195.6, 15.0, 1.0, 1.0], [1418.0, 163.0, 135.0, 210.7, 15.0, 1.0, 1.0], [1452.0, 163.0, 137.0, 205.0, 15.0, 1.0, 1.0], [1495.0, 163.0, 132.7, 204.0, 15.0, 1.0, 1.0], [1538.0, 167.0, 139.0, 204.0, 15.0, 1.0, 1.0], [1581.6, 173.7, 152.0, 191.0, 14.0, 0.9, 1.0], [1625.0, 180.0, 152.0, 193.0, 14.0, 0.9, 1.0], [1668.0, 186.7, 141.0, 208.0, 14.0, 0.75, 0.9], [1690.0, 191.0, 143.5, 238.5, 14.0, 0.75, 0.9], [1711.0, 193.0, 141.0, 249.0, 14.0, 0.75, 0.9], [1754.5, 199.6, 145.6, 250.0, 14.0, 0.75, 0.7], [1797.7, 202.0, 160.7, 272.0, 14.0, 0.75, 0.7], [1841.0, 208.0, 163.0, 280.0, 14.0, 0.75, 0.7], [1882.0, 210.5, 173.7, 272.0, 14.0, 0.75, 0.7]], [[169.0, 516.0, 490.0, 548.0, 22.0, 1.1, 1.0], [212.0, 511.6, 483.5, 552.6, 22.0, 1.1, 1.0], [255.4, 507.0, 479.0, 554.8, 22.0, 1.05, 1.0], [298.6, 507.0, 474.8, 554.8, 22.0, 1.0, 1.0], [341.9, 507.0, 474.8, 550.5, 22.0, 1.0, 1.0], [385.0, 511.6, 485.6, 548.0, 20.0, 1.0, 1.0], [428.0, 520.0, 496.4, 548.0, 18.0, 1.0, 1.0], [471.5, 526.7, 500.8, 552.6, 17.0, 1.0, 1.0], [514.7, 530.0, 505.0, 557.0, 16.0, 1.0, 1.0], [558.0, 527.8, 509.4, 550.5, 15.0, 1.0, 1.0], [599.0, 527.5, 504.0, 549.0, 15.0, 1.0, 1.0], [642.0, 527.0, 501.0, 546.0, 15.0, 1.0, 1.0], [685.4, 518.0, 490.0, 540.0, 16.0, 1.05, 1.0], [728.6, 514.0, 475.0, 535.6, 17.0, 1.1, 1.0], [772.0, 511.8, 462.0, 533.4, 18.0, 1.1, 0.95], [815.0, 505.0, 453.5, 531.0, 18.0, 1.1, 0.95], [858.0, 501.0, 434.0, 529.0, 20.0, 1.1, 0.95], [901.5, 492.0, 419.0, 520.5, 22.0, 1.1, 0.95], [944.7, 491.0, 414.6, 520.5, 22.0, 1.1, 0.95], [988.0, 490.0, 414.6, 518.0, 22.0, 1.2, 0.95], [1029.0, 493.0, 419.0, 512.0, 22.0, 1.3, 0.95], [1072.0, 494.5, 423.0, 514.0, 22.0, 1.3, 0.95], [1115.0, 497.8, 427.5, 518.0, 22.0, 1.3, 0.95], [1158.6, 500.0, 436.0, 518.0, 22.0, 1.3, 0.95], [1202.0, 502.0, 444.8, 520.5, 22.0, 1.3, 0.95], [1245.0, 503.0, 453.5, 527.0, 22.0, 1.3, 1.0], [1288.0, 502.0, 462.0, 531.0, 20.0, 1.3, 1.0], [1331.5, 507.5, 462.0, 540.0, 20.0, 1.2, 1.0], [1374.7, 514.0, 468.6, 540.0, 20.0, 1.0, 1.0], [1418.0, 518.0, 470.8, 542.0, 20.0, 1.0, 1.0], [1452.0, 518.0, 478.0, 547.0, 20.0, 1.0, 1.0], [1495.0, 519.4, 476.0, 554.0, 20.0, 1.0, 1.0], [1538.0, 519.4, 480.5, 558.3, 20.0, 1.0, 1.0], [1581.6, 523.7, 480.5, 567.0, 20.0, 0.95, 1.0], [1625.0, 530.0, 489.0, 567.0, 20.0, 0.9, 1.0], [1668.0, 549.6, 493.5, 593.0, 20.0, 0.8, 1.0], [1690.0, 560.5, 502.0, 610.0, 20.0, 0.7, 1.0], [1711.0, 560.5, 502.0, 597.0, 20.0, 0.7, 1.0], [1754.5, 571.0, 510.8, 610.0, 20.0, 0.6, 1.0], [1797.7, 575.6, 519.4, 614.5, 20.0, 0.55, 1.0], [1841.0, 575.6, 519.4, 614.5, 20.0, 0.55, 1.0], [1882.0, 575.6, 528.0, 618.8, 20.0, 0.55, 1.0]], [[169.0, 797.0, 767.8, 830.5, 20.0, 1.0, 1.0], [212.0, 793.7, 763.5, 828.3, 20.0, 1.0, 1.0], [255.4, 789.4, 761.0, 821.8, 20.0, 1.0, 1.0], [298.6, 780.8, 754.8, 824.0, 20.0, 1.0, 1.0], [341.9, 775.3, 750.5, 821.8, 20.0, 1.0, 1.0], [385.0, 778.6, 754.8, 819.6, 20.0, 1.0, 1.0], [428.0, 791.6, 763.5, 819.6, 18.0, 1.0, 1.0], [471.5, 802.4, 776.4, 828.3, 16.0, 0.95, 1.0], [514.7, 806.7, 778.6, 832.6, 16.0, 0.95, 1.0], [558.0, 804.5, 783.0, 830.5, 16.0, 0.95, 1.0], [599.0, 802.5, 780.0, 826.0, 16.0, 0.95, 1.0], [642.0, 800.4, 772.4, 824.0, 16.0, 0.95, 1.0], [685.4, 794.0, 763.7, 817.7, 16.0, 0.95, 1.0], [728.6, 789.6, 755.0, 811.0, 14.0, 0.95, 1.0], [772.0, 787.5, 744.0, 809.0, 14.0, 0.95, 1.0], [815.0, 783.0, 731.3, 809.0, 14.0, 0.95, 0.65], [858.0, 781.0, 714.0, 807.0, 14.0, 0.95, 0.65], [901.5, 776.7, 692.4, 802.6, 14.0, 0.95, 0.65], [944.7, 774.5, 690.0, 798.3, 14.0, 0.95, 0.65], [988.0, 772.4, 692.4, 798.3, 14.0, 0.95, 0.65], [1029.0, 770.5, 696.0, 796.0, 14.0, 0.95, 0.65], [1072.0, 768.0, 692.4, 796.0, 14.0, 0.95, 0.65], [1115.0, 770.0, 699.0, 791.8, 14.0, 0.95, 0.65], [1158.6, 772.4, 711.9, 798.3, 14.0, 0.95, 0.65], [1202.0, 777.8, 722.7, 800.4, 14.0, 0.95, 0.65], [1245.0, 781.0, 731.3, 807.0, 14.0, 0.95, 1.0], [1288.0, 778.8, 733.5, 815.6, 14.0, 0.95, 1.0], [1331.5, 781.0, 737.8, 824.0, 14.0, 0.95, 1.0], [1374.7, 789.6, 746.4, 824.0, 14.0, 0.95, 1.0], [1418.0, 789.6, 757.0, 820.0, 14.0, 0.95, 1.0], [1452.0, 793.0, 765.0, 814.0, 14.0, 0.95, 1.0], [1495.0, 795.0, 767.0, 821.0, 14.0, 0.9, 1.0], [1538.0, 797.2, 771.3, 829.6, 14.0, 0.9, 1.0], [1581.6, 797.2, 769.0, 834.0, 14.0, 0.9, 1.0], [1625.0, 799.0, 782.0, 851.0, 20.0, 0.85, 1.0], [1668.0, 816.7, 786.4, 860.0, 20.0, 0.75, 1.0], [1711.0, 829.6, 799.4, 879.0, 20.0, 0.65, 1.0], [1754.5, 836.0, 801.6, 885.8, 20.0, 0.55, 1.0], [1797.7, 840.5, 816.7, 894.5, 20.0, 0.5, 1.0], [1841.0, 862.0, 834.0, 894.5, 20.0, 0.5, 1.0], [1882.0, 868.5, 851.3, 894.5, 20.0, 0.5, 1.0]]];
var SEGR=[];for(var q=0;q<100;q++){var a=[];for(var r=0;r<9;r++)a.push(rnd()*2-1);SEGR.push(a);}
var V=new Float32Array(NP),S=new Float32Array(NP);
var cC=[0,0,0],cT=[0,0,0],cB=[0,0,0],cW=[0,0,0],cP=[0,0,0],cH=[1,1,1];
function sstep(t){t=Math.max(0,Math.min(1,t));return t*t*(3-2*t);}
for(var x=0;x<W;x++){var px=x+X0;
 var sk=Math.floor((px-186.4)/19.06)+2;var sg=SEGR[sk]||[0,0,0,0,0,0,0,0,0];
 for(var b=0;b<3;b++){cC[b]=interp(B[b],px,1)-Y0;var p0=interp(B[b],px,5),sgm=(4.0)*(1+4*Math.max(0,1-p0));cT[b]=interp(B[b],px,2)-Y0+sgm*sg[b*3];cB[b]=interp(B[b],px,3)-Y0+sgm*sg[b*3+1];cW[b]=interp(B[b],px,4);cP[b]=interp(B[b],px,5)*(1+(0.12)*sg[b*3+2]);cH[b]=B[b][0].length>6?interp(B[b],px,6):1;}
 for(var y=0;y<H;y++){
  var mx=(-0.055),sm=0;
  for(b=0;b<3;b++){var c=cC[b],top=cT[b],bot=cB[b];
   var pp=cP[b],ed=(5.0)*(1+(4.0)*Math.max(0,1-pp));
   var pl;if(y<c){pl=sstep((y-top)/ed+(0.5));}else{pl=sstep((bot-y)/ed+(0.5));}
   var ad=Math.abs(y-c);
   var outer;if(y<c){outer=Math.exp(-Math.pow(Math.max(0,top-y)/(15.0),2));}else{outer=Math.exp(-Math.pow(Math.max(0,y-bot)/(15.0),2));}
   var dc=(y-c)/cW[b];
   var core=Math.exp(-dc*dc*0.7);
   var ridge=Math.exp(-dc*dc*(8.0));
   var dd=(y<c)?(c-y)/Math.max(1,c-top):(y-c)/Math.max(1,bot-c);dd=Math.min(1,dd);
   var hl=(0.22)+((0.32)-(0.22))*(1-dd)+((0.5)-(0.32))*Math.exp(-ad*ad/((24.0)*(24.0)));
   hl*=(1-(0.5)*Math.max(0,1-pp))*(1-(1-cH[b])*dd);
   var v=(-0.055)+(0.05)*outer+pl*(hl-(0.05))+cP[b]*((0.15)*core+(0.2)*ridge);
   if(v>mx)mx=v;
   var st=outer; if(st>sm)sm=st;
  }
  V[y*W+x]=mx; S[y*W+x]=sm;
 }
}
var AM=new Float32Array(NP);for(i=0;i<NP;i++){var t=Math.min(1,Math.max(0,(V[i]-(-0.055))/0.3));AM[i]=((0.095)+((0.2)-(0.095))*t)*(1-(0.35)*Math.min(1,Math.max(0,(V[i]-0.45)/0.3)));var nn=t*N[i]+(1-t)*N2[i];V[i]=V[i]+AM[i]*nn;}
for(var k=0;k<90;k++){var sx=Math.round(186.4+19.06*k-X0)-1;if(sx<0||sx>=W-3)continue;
 var fx=1+2.2*Math.pow(rnd(),2),gx=0.7+0.6*rnd();
 for(var y=0;y<H;y++){var o=y*W+sx;var bs=V[o+1]-AM[o+1]*N[o+1];var sv=Math.pow(S[o+1],1/(fx*fx));
  var lv=(-0.055)+0.03+(0.18)*gx*sv;
  V[o]=Math.max(V[o],lv*0.7); V[o+3]=Math.max(V[o+3],lv);
  if(bs>(0.2)){V[o+1]=-0.5;V[o+2]=-0.5;}else{V[o+1]=Math.max(V[o+1]*0.5,lv);V[o+2]=V[o+2]*0.6;}
 }}

(function(){var vx=1780-X0;for(var y=248-Y0;y<H;y++){for(var dx=-1;dx<=1;dx++){var o=y*W+vx+dx;var lv=(dx==0?0.24:0.10)+0.05*N[o];V[o]=Math.max(V[o],lv);}}
 for(var x=0;x<1700-X0;x++){for(var y=121;y<=126;y++){var o=y*W+x;var w=(y==123||y==124)?0.13:0.04;V[o]-=w;}}
 var blobs=[[297,437,2.5,4.5],[583,437,3,3.5]];for(var k=0;k<blobs.length;k++){var bx=blobs[k][0]-X0,by=blobs[k][1]-Y0,rx=blobs[k][2],ry=blobs[k][3];
  for(var yy=Math.floor(by-ry*3);yy<=by+ry*2;yy++)for(var xx=Math.floor(bx-rx*2);xx<=bx+rx*2;xx++){var dx=(xx-bx)/rx,dy=(yy-by)/ry;var o=yy*W+xx;
   var g=0.42*Math.exp(-(dx*dx+dy*dy))+0.2*Math.exp(-dx*dx*2-Math.pow((yy-by+ry*1.8)/(ry*1.2),2));V[o]=Math.max(V[o],g);}}
})();

function jet(f){function u(k){return k<=16?k/16:(k<=31?1:(k<=47?(48-k)/16:0));}
 return [(f>=25)?u(f-24):0,(f>=9&&f<=55)?u(f-8):0,(f<=39)?u(f+8):0];}
var LUT=[];for(i=1;i<=64;i++)LUT.push(jet(i));
for(i=0;i<NP;i++){var q=Math.floor(Math.max(0,Math.min(0.99999,V[i]))*64);var c3=LUT[q];D[4*i]=c3[0]*255;D[4*i+1]=c3[1]*255;D[4*i+2]=c3[2]*255;D[4*i+3]=255;}
(function(){var R=new Float32Array(NP),G=new Float32Array(NP),Bc=new Float32Array(NP);
for(var i=0;i<NP;i++){R[i]=D[4*i];G[i]=D[4*i+1];Bc[i]=D[4*i+2];}
for(var k=0;k<(0);k++){b121(R);b121(G);b121(Bc);}
for(i=0;i<NP;i++){D[4*i]=R[i];D[4*i+1]=G[i];D[4*i+2]=Bc[i];}})();
ctx.putImageData(img,0,0);

})();

</script>
</body></html>
